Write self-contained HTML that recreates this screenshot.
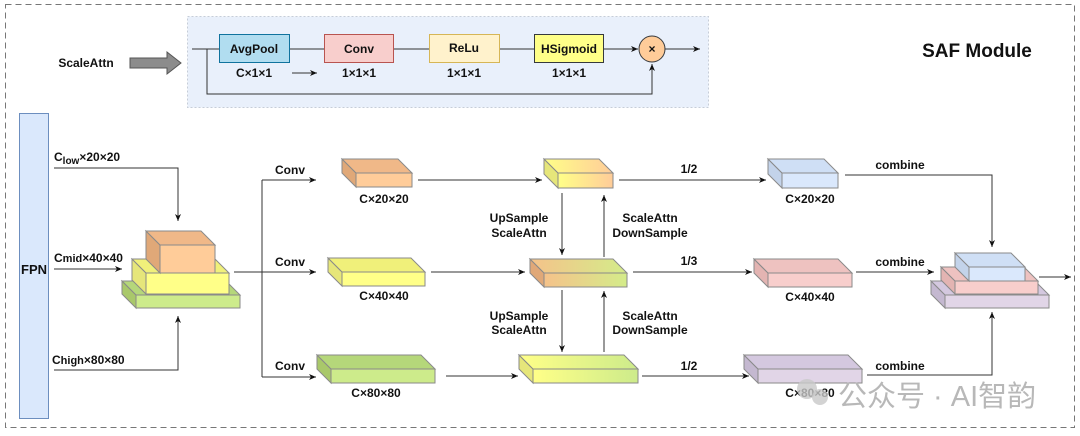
<!DOCTYPE html>
<html><head><meta charset="utf-8"><style>
html,body{margin:0;padding:0;background:#fff;}
svg{display:block;}
text{font-family:"Liberation Sans",Arial,sans-serif;font-weight:bold;font-size:12px;fill:#111;}
</style></head><body>
<svg width="1080" height="436" viewBox="0 0 1080 436" xmlns="http://www.w3.org/2000/svg">
<defs>
<marker id="a" markerWidth="8" markerHeight="8" refX="7" refY="4" orient="auto" markerUnits="userSpaceOnUse"><path d="M0,1 L7,4 L0,7 L2,4 Z" fill="#111"/></marker>
<linearGradient id="g1" x1="0" x2="1"><stop offset="0" stop-color="#ffff88"/><stop offset="1" stop-color="#ffcc99"/></linearGradient>
<linearGradient id="g2" x1="0" x2="1"><stop offset="0" stop-color="#f5c28a"/><stop offset="1" stop-color="#d4ec8a"/></linearGradient>
<linearGradient id="g3" x1="0" x2="1"><stop offset="0" stop-color="#ffff88"/><stop offset="1" stop-color="#cdeb8b"/></linearGradient>
</defs>
<rect x="5.5" y="4.5" width="1069" height="423" fill="none" stroke="#777" stroke-dasharray="6,4"/>
<rect x="187.5" y="16.5" width="521" height="91" fill="#e9f0fb" stroke="#c6cdd8" stroke-dasharray="2,2"/>
<text x="86" y="67" text-anchor="middle">ScaleAttn</text>
<path d="M130,58 H167 V52 L181,63 L167,74 V68 H130 Z" fill="#8c8c8c" stroke="#555"/>
<g stroke="#333" fill="none">
<line x1="192" y1="49" x2="219" y2="49"/>
<line x1="289" y1="49" x2="324" y2="49"/>
<line x1="393" y1="49" x2="429" y2="49"/>
<line x1="499" y1="49" x2="534" y2="49"/>
<line x1="603" y1="49" x2="638" y2="49" marker-end="url(#a)"/>
<line x1="665" y1="49" x2="700" y2="49" marker-end="url(#a)"/>
<polyline points="207,49 207,94 652,94 652,64" marker-end="url(#a)"/>
<line x1="292" y1="73" x2="317" y2="73" marker-end="url(#a)"/>
</g>
<rect x="219.5" y="34.5" width="70" height="28" fill="#b1ddf0" stroke="#10739e"/>
<text x="254" y="53" text-anchor="middle">AvgPool</text>
<rect x="324.5" y="34.5" width="69" height="28" fill="#f8cecc" stroke="#b85450"/>
<text x="359" y="53" text-anchor="middle">Conv</text>
<rect x="429.5" y="34.5" width="70" height="28" fill="#fff2cc" stroke="#d6b656"/>
<text x="464" y="52" text-anchor="middle">ReLu</text>
<rect x="534.5" y="34.5" width="69" height="28" fill="#ffff88" stroke="#36393d"/>
<text x="569" y="53" text-anchor="middle">HSigmoid</text>
<circle cx="652" cy="49" r="13" fill="#ffcc99" stroke="#36393d"/>
<text x="652" y="53" text-anchor="middle">×</text>
<text x="254" y="77" text-anchor="middle">C×1×1</text>
<text x="359" y="77" text-anchor="middle">1×1×1</text>
<text x="464" y="77" text-anchor="middle">1×1×1</text>
<text x="569" y="77" text-anchor="middle">1×1×1</text>
<text x="977" y="57" text-anchor="middle" style="font-size:19px">SAF Module</text>
<rect x="19.5" y="113.5" width="29" height="305" fill="#dae8fc" stroke="#6c8ebf"/>
<text x="34" y="274" text-anchor="middle" style="font-size:13px">FPN</text>
<text x="54" y="161">C<tspan style="font-size:10px" dy="3">low</tspan><tspan dy="-3">×20×20</tspan></text>
<text x="54" y="262">C<tspan style="font-size:11px">mid</tspan>×40×40</text>
<text x="52" y="364">C<tspan style="font-size:11px">high</tspan>×80×80</text>
<g stroke="#333" fill="none">
<polyline points="54,168 178,168 178,221" marker-end="url(#a)"/>
<line x1="54" y1="269" x2="122" y2="269" marker-end="url(#a)"/>
<polyline points="54,370 178,370 178,316" marker-end="url(#a)"/>
<line x1="234" y1="272" x2="262" y2="272"/>
<line x1="262" y1="180" x2="262" y2="377"/>
<line x1="262" y1="180" x2="316" y2="180" marker-end="url(#a)"/>
<line x1="262" y1="272" x2="316" y2="272" marker-end="url(#a)"/>
<line x1="262" y1="377" x2="316" y2="377" marker-end="url(#a)"/>
<line x1="418" y1="180" x2="542" y2="180" marker-end="url(#a)"/>
<line x1="431" y1="272" x2="525" y2="272" marker-end="url(#a)"/>
<line x1="446" y1="376" x2="518" y2="376" marker-end="url(#a)"/>
<line x1="562" y1="193" x2="562" y2="255" marker-end="url(#a)"/>
<line x1="604" y1="257" x2="604" y2="195" marker-end="url(#a)"/>
<line x1="562" y1="290" x2="562" y2="352" marker-end="url(#a)"/>
<line x1="604" y1="352" x2="604" y2="291" marker-end="url(#a)"/>
<line x1="619" y1="180" x2="766" y2="180" marker-end="url(#a)"/>
<line x1="633" y1="272" x2="752" y2="272" marker-end="url(#a)"/>
<line x1="642" y1="376" x2="749" y2="376" marker-end="url(#a)"/>
<polyline points="845,175 992,175 992,247" marker-end="url(#a)"/>
<line x1="856" y1="272" x2="934" y2="272" marker-end="url(#a)"/>
<polyline points="867,375 992,375 992,312" marker-end="url(#a)"/>
<line x1="1039" y1="277" x2="1071" y2="277" marker-end="url(#a)"/>
</g>
<text x="290" y="174" text-anchor="middle">Conv</text>
<text x="290" y="266" text-anchor="middle">Conv</text>
<text x="290" y="370" text-anchor="middle">Conv</text>
<g stroke="#8a8a8a" stroke-width="1">
<path d="M122,281 L136,295 L136,308 L122,294 Z" fill="#a9c86a"/><path d="M122,281 H226 L240,295 H136 Z" fill="#b5d77a"/><rect x="136" y="295" width="104" height="13" fill="#cdeb8b"/>
<path d="M132,259 L146,273 L146,294 L132,280 Z" fill="#e6e67a"/><path d="M132,259 H215 L229,273 H146 Z" fill="#f0f07a"/><rect x="146" y="273" width="83" height="21" fill="#ffff88"/>
<path d="M146,231 L160,245 L160,273 L146,259 Z" fill="#e0a878"/><path d="M146,231 H201 L215,245 H160 Z" fill="#f0b888"/><rect x="160" y="245" width="55" height="28" fill="#ffcc99"/>
<path d="M342,159 L356,173 L356,187 L342,173 Z" fill="#e0a878"/><path d="M342,159 H398 L412,173 H356 Z" fill="#f0b888"/><rect x="356" y="173" width="56" height="14" fill="#ffcc99"/>
<path d="M328,258 L342,272 L342,286 L328,272 Z" fill="#e6e67a"/><path d="M328,258 H411 L425,272 H342 Z" fill="#f0f07a"/><rect x="342" y="272" width="83" height="14" fill="#ffff88"/>
<path d="M317,355 L331,369 L331,383 L317,369 Z" fill="#a9c86a"/><path d="M317,355 H421 L435,369 H331 Z" fill="#b5d77a"/><rect x="331" y="369" width="104" height="14" fill="#cdeb8b"/>
<path d="M544,159 L558,173 L558,188 L544,174 Z" fill="#e6e67a"/><path d="M544,159 H599 L613,173 H558 Z" fill="url(#g1)"/><rect x="558" y="173" width="55" height="15" fill="url(#g1)"/>
<path d="M530,259 L544,273 L544,287 L530,273 Z" fill="#e0a878"/><path d="M530,259 H613 L627,273 H544 Z" fill="url(#g2)"/><rect x="544" y="273" width="83" height="14" fill="url(#g2)"/>
<path d="M519,355 L533,369 L533,383 L519,369 Z" fill="#e6e67a"/><path d="M519,355 H624 L638,369 H533 Z" fill="url(#g3)"/><rect x="533" y="369" width="105" height="14" fill="url(#g3)"/>
<path d="M768,159 L782,173 L782,188 L768,174 Z" fill="#c3d3ea"/><path d="M768,159 H824 L838,173 H782 Z" fill="#cfdff5"/><rect x="782" y="173" width="56" height="15" fill="#dae8fc"/>
<path d="M754,259 L768,273 L768,287 L754,273 Z" fill="#e3b4b2"/><path d="M754,259 H838 L852,273 H768 Z" fill="#eec2c0"/><rect x="768" y="273" width="84" height="14" fill="#f8cecc"/>
<path d="M744,355 L758,369 L758,383 L744,369 Z" fill="#c4b8d0"/><path d="M744,355 H848 L862,369 H758 Z" fill="#d4c8df"/><rect x="758" y="369" width="104" height="14" fill="#e1d5e7"/>
<path d="M931,281 L945,295 L945,308 L931,294 Z" fill="#c4b8d0"/><path d="M931,281 H1035 L1049,295 H945 Z" fill="#d4c8df"/><rect x="945" y="295" width="104" height="13" fill="#e1d5e7"/>
<path d="M941,267 L955,281 L955,294 L941,280 Z" fill="#e3b4b2"/><path d="M941,267 H1024 L1038,281 H955 Z" fill="#eec2c0"/><rect x="955" y="281" width="83" height="13" fill="#f8cecc"/>
<path d="M955,253 L969,267 L969,281 L955,267 Z" fill="#c3d3ea"/><path d="M955,253 H1011 L1025,267 H969 Z" fill="#cfdff5"/><rect x="969" y="267" width="56" height="14" fill="#dae8fc"/>
</g>
<text x="384" y="203" text-anchor="middle">C×20×20</text>
<text x="384" y="300" text-anchor="middle">C×40×40</text>
<text x="376" y="397" text-anchor="middle">C×80×80</text>
<text x="519" y="222" text-anchor="middle">UpSample</text>
<text x="519" y="237" text-anchor="middle">ScaleAttn</text>
<text x="650" y="222" text-anchor="middle">ScaleAttn</text>
<text x="650" y="237" text-anchor="middle">DownSample</text>
<text x="519" y="320" text-anchor="middle">UpSample</text>
<text x="519" y="334" text-anchor="middle">ScaleAttn</text>
<text x="650" y="320" text-anchor="middle">ScaleAttn</text>
<text x="650" y="334" text-anchor="middle">DownSample</text>
<text x="689" y="173" text-anchor="middle">1/2</text>
<text x="689" y="265" text-anchor="middle">1/3</text>
<text x="689" y="370" text-anchor="middle">1/2</text>
<text x="810" y="203" text-anchor="middle">C×20×20</text>
<text x="810" y="301" text-anchor="middle">C×40×40</text>
<text x="810" y="397" text-anchor="middle">C×80×80</text>
<text x="900" y="169" text-anchor="middle">combine</text>
<text x="900" y="266" text-anchor="middle">combine</text>
<text x="900" y="370" text-anchor="middle">combine</text>
<circle cx="807" cy="389" r="10" fill="#c8c8c8" opacity="0.8"/>
<circle cx="820" cy="397" r="8" fill="#c8c8c8" opacity="0.8"/>
<text x="838" y="406" style="font-family:'Liberation Sans','Noto Sans CJK SC',sans-serif;font-weight:normal;font-size:29px;fill:#b8b8b8;">公众号 · AI智韵</text>
</svg>
</body></html>
